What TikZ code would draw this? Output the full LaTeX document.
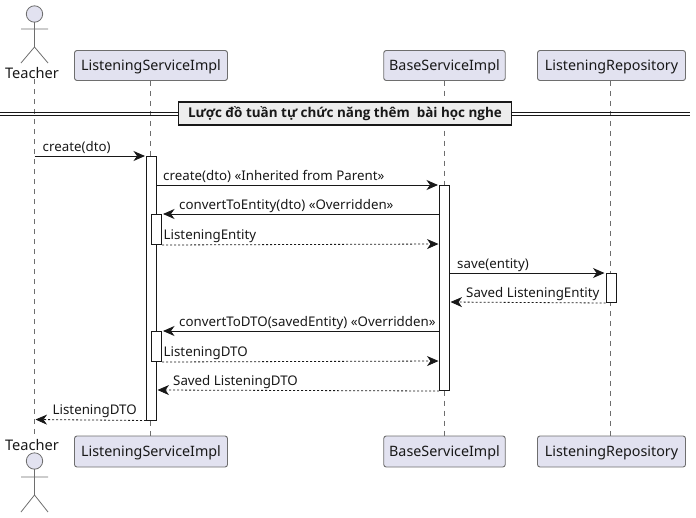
\documentclass[tikz,border=0pt]{standalone}
\usepackage{fontspec}
\setmainfont{Noto Sans}
\newfontfamily\titlefont{Open Sans}
\usepackage{xcolor}
\usetikzlibrary{arrows.meta}
\definecolor{partfill}{HTML}{E2E2F0}
\definecolor{partline}{HTML}{6E6E6E}
\definecolor{inkline}{HTML}{181818}
\tikzset{
  part/.style={draw=partline, fill=partfill, rounded corners=2.5pt, line width=0.9pt, minimum height=30pt, inner sep=0pt, text height=12.5pt, text depth=3pt, font=\fontsize{14.3}{16}\selectfont, text=inkline},
  actorname/.style={inner sep=0pt, font=\fontsize{14.6}{16}\selectfont, text=inkline},
  life/.style={draw=partline, line width=0.8pt, dash pattern=on 5pt off 5pt},
  figure/.style={draw=partline, line width=0.8pt},
  bar/.style={draw=inkline, fill=white, line width=1pt, minimum width=10pt, inner sep=0pt, anchor=north},
  msg/.style={draw=inkline, line width=1pt, shorten >=1pt, -{Stealth[length=11.5pt,width=10pt,inset=3.5pt]}},
  ret/.style={msg, line width=0.8pt, dash pattern=on 2pt off 2pt},
  lbl/.style={anchor=base west, inner sep=0pt, yshift=-0.7pt, font=\fontsize{13.3}{15}\selectfont, text=inkline},
}
\begin{document}
\begin{tikzpicture}[x=1pt,y=-1pt]
      \useasboundingbox (0,0) rectangle (696,517);

      % Participants
      \node[part, minimum width=153pt] (svcTop) at (151,65.5) {ListeningServiceImpl};
      \node[part, minimum width=121.5pt] (baseTop) at (444.5,65.5) {BaseServiceImpl};
      \node[part, minimum width=148pt] (repoTop) at (611.5,65.5) {ListeningRepository};
      \node[part, minimum width=153pt, minimum height=31pt] (svcBot) at (151,451.5) {ListeningServiceImpl};
      \node[part, minimum width=121.5pt, minimum height=31pt] (baseBot) at (444.5,451.5) {BaseServiceImpl};
      \node[part, minimum width=148pt, minimum height=31pt] (repoBot) at (611.5,451.5) {ListeningRepository};
      \node[actorname] (teacherTop) at (32,73.5) {Teacher};
      \node[actorname] (teacherBot) at (32,445) {Teacher};

      % Lifelines
      \draw[life] (teacherTop.south -| 34.5,0) -- (teacherBot.north -| 34.5,0);
      \draw[life] (svcTop.south -| 150,0) -- (svcBot.north -| 150,0);
      \draw[life] (baseTop) ++(0,15) -- (baseBot.north);
      \draw[life] (repoTop.south -| 610.5,0) -- (repoBot.north -| 610.5,0);

      % Actors
      \draw[figure, fill=partfill] (34.5,14) circle (8.2pt);
      \draw[figure] (34.5,22.2) -- (34.5,47) (21,29) -- (48,29) (21,63) -- (34.5,47) -- (48,63);
      \draw[figure, fill=partfill] (34.5,461) circle (8.2pt);
      \draw[figure] (34.5,469.2) -- (34.5,495) (21,477) -- (48,477) (21,512) -- (34.5,495) -- (48,512);

      % Title divider
      \draw[draw=inkline, line width=1pt] (0,112.5) -- (690,112.5) (0,115.5) -- (690,115.5);
      \node[draw=inkline, fill=black!7, line width=1.6pt, minimum width=333pt, minimum height=23pt, inner sep=0pt, font=\titlefont\bfseries\fontsize{13.45}{15}\selectfont, text=inkline] (title) at (345,113.5) {Lược đồ tuần tự chức năng thêm\ \ bài học nghe};

      % Activations
      \node[bar, minimum height=263.5pt] (svcBar) at (151.5,156) {};
      \node[bar, minimum height=30pt] (svcEntity) at (156.5,214) {};
      \node[bar, minimum height=30pt] (svcDto) at (156.5,331) {};
      \node[bar, minimum height=205pt] (baseBar) at (444.5,185) {};
      \node[bar, minimum height=29pt] (repoBar) at (611,273) {};

      % Free ends
      \coordinate (teacherCall) at (34.5,156);
      \coordinate (teacherBack) at (34.5,419.5);
      \coordinate (baseEntity) at (439.5,214);
      \coordinate (baseEntityBack) at (439.5,244);
      \coordinate (baseSave) at (449.5,273);
      \coordinate (baseSaved) at (449.5,302);
      \coordinate (baseDto) at (439.5,331);
      \coordinate (baseDtoBack) at (439.5,361);
      \coordinate (svcSaved) at (156.5,390);
      \coordinate (svcCall) at (156.5,185);

      % Messages
      \draw[msg] (teacherCall) -- (svcBar.north west);
      \draw[msg] (svcCall) -- (baseBar.north west);
      \draw[msg] (baseEntity) -- (svcEntity.north east);
      \draw[ret] (svcEntity.south east) -- (baseEntityBack);
      \draw[msg] (baseSave) -- (repoBar.north west);
      \draw[ret] (repoBar.south west) -- (baseSaved);
      \draw[msg] (baseDto) -- (svcDto.north east);
      \draw[ret] (svcDto.south east) -- (baseDtoBack);
      \draw[ret] (baseBar.south west) -- (svcSaved);
      \draw[ret] (svcBar.south west) -- (teacherBack);

      % Labels
      \node[lbl] (lblCreate) at (42.5,150.5) {create(dto)};
      \node[lbl] (lblInherit) at (163,180) {create(dto) «Inherited from Parent»};
      \node[lbl] (lblEntity) at (179,209) {convertToEntity(dto) «Overridden»};
      \node[lbl] (lblEntityBack) at (163.5,238.5) {ListeningEntity};
      \node[lbl] (lblSave) at (457,268) {save(entity)};
      \node[lbl] (lblSaved) at (466,297) {Saved ListeningEntity};
      \node[lbl] (lblDto) at (179,326) {convertToDTO(savedEntity) «Overridden»};
      \node[lbl] (lblDtoBack) at (163.5,356) {ListeningDTO};
      \node[lbl] (lblSavedDto) at (173,385) {Saved ListeningDTO};
      \node[lbl] (lblBack) at (52.5,414) {ListeningDTO};
    \end{tikzpicture}
\end{document}
